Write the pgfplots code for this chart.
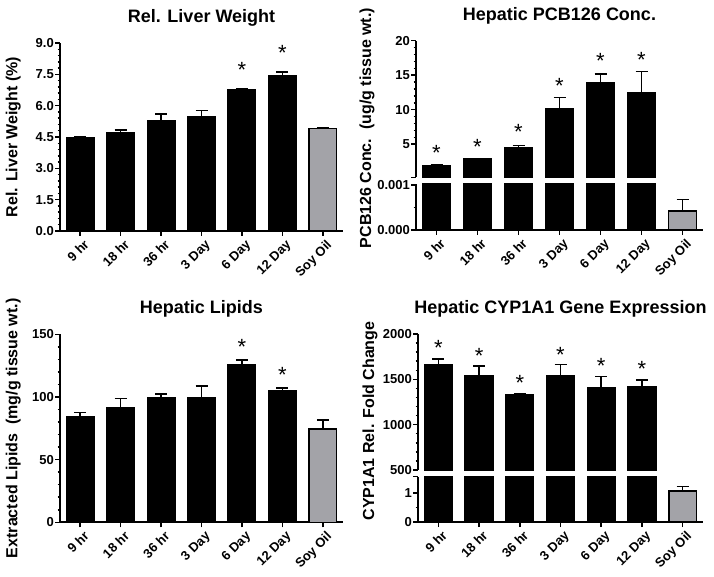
\documentclass[border=0pt]{standalone}
\usepackage{fontspec}
\setmainfont{Liberation Sans}
\usepackage{pgfplots}
\pgfplotsset{compat=1.18}
\usepackage{pgfplotstable}
\definecolor{soygray}{RGB}{163,163,168}

% ---- data: x position, mean, upper error ----
\pgfplotstableread{
x y err
0 4.45 0.06
1 4.70 0.13
2 5.30 0.30
3 5.45 0.32
4 6.78 0.02
5 7.42 0.18
}\liverT
\pgfplotstableread{
x y err
6 4.90 0.03
}\liverS
\pgfplotstableread{
x y
4 7.95
5 8.76
}\liverStar

\pgfplotstableread{
x y err
0 1.81 0.14
1 2.82 0.05
2 4.52 0.28
3 10.18 1.59
4 13.85 1.35
5 12.50 3.00
}\pcbT
\pgfplotstableread{
x y err
6 0.00042 0.00026
}\pcbS
\pgfplotstableread{
x y
0 4.38
1 5.34
2 7.42
3 14.15
4 17.78
5 17.92
}\pcbStar

\pgfplotstableread{
x y err
0 84.6 2.9
1 91.5 7.2
2 99.5 2.9
3 99.5 9.3
4 125.8 3.7
5 105.0 2.2
}\lipT
\pgfplotstableread{
x y err
6 74.5 7.1
}\lipS
\pgfplotstableread{
x y
4 143.6
5 121.5
}\lipStar

\pgfplotstableread{
x y err
0 1659 63
1 1545 103
2 1333 7
3 1538 125
4 1410 124
5 1417 73
}\cypT
\pgfplotstableread{
x y err
6 1.06 0.16
}\cypS
\pgfplotstableread{
x y
0 1898
1 1817
2 1512
3 1824
4 1707
5 1670
}\cypStar

\pgfplotsset{
  prism/.style={
    scale only axis,
    axis x line*=bottom, axis y line*=left,
    axis line style={line width=1.8pt},
    every tick/.style={black, line width=1.5pt},
    tick align=outside,
    major tick length=5pt, minor tick length=2.5pt,
    minor y tick num=4,
    xmin=-0.5, xmax=6.5,
    xtick={0,...,6},
    xticklabels={9 hr,18 hr,36 hr,3 Day,6 Day,12 Day,Soy Oil},
    x tick label style={rotate=45, anchor=north east, inner sep=1pt, yshift=-3pt, xshift=1pt,
      font=\fontsize{13}{13}\selectfont\bfseries},
    y tick label style={inner sep=1pt, font=\fontsize{13}{14}\selectfont\bfseries},
    /pgf/number format/assume math mode=true,
    scaled y ticks=false,
    title style={font=\fontsize{18}{20}\selectfont\bfseries, at={(0.5,1)}, anchor=center, yshift=19pt},
    ylabel style={font=\fontsize{16}{18}\selectfont\bfseries, anchor=center},
  },
  blackbar/.style={ybar, bar shift=0pt, bar width=0.68, fill=black, draw=black, line width=1.5pt},
  soybar/.style={ybar, bar shift=0pt, bar width=0.68, fill=soygray, draw=black, line width=1.5pt},
  errs/.style={error bars/.cd, y dir=plus, y explicit,
    error bar style={line width=1.5pt, black},
    error mark options={rotate=90, mark size=6pt, line width=1.5pt, black}},
  stars/.style={draw=none, nodes near coords={*},
    every node near coord/.style={anchor=base, yshift=-12.5pt, inner sep=0pt,
      font=\fontsize{22}{22}\selectfont}},
  topseg/.style={axis x line=none, xtick=\empty},
}

\begin{document}
\begin{tikzpicture}
\useasboundingbox (0pt,0pt) rectangle (714pt,576pt);

% Rel. liver weight
\begin{axis}[prism, at={(60pt,345pt)}, anchor=south west, width=283pt, height=188pt,
    ymin=0, ymax=9, ytick={0,1.5,...,9},
    yticklabel style={/pgf/number format/.cd, fixed, fixed zerofill, precision=1},
    title={Rel. Liver Weight},
    ylabel={Rel. Liver Weight (\%)},
    ylabel style={at={(axis description cs:-0.165,0.5)}}]
  \addplot[blackbar, errs] table[x=x, y=y, y error=err] {\liverT};
  \addplot[soybar, errs] table[x=x, y=y, y error=err] {\liverS};
  \addplot[stars] table[x=x, y=y] {\liverStar};
\end{axis}

% Hepatic PCB126, upper segment
\begin{axis}[prism, topseg, at={(416pt,398.7pt)}, anchor=south west, width=287pt, height=136.6pt,
    ymin=0.2, ymax=20, ytick={5,10,15,20},
    extra y ticks={0.2}, extra y tick labels={},
    title={Hepatic PCB126 Conc.},
    ylabel={PCB126 Conc.\ \ (ug/g tissue wt.)},
    ylabel style={at={(axis description cs:-0.171,0.361)}}]
  \addplot[blackbar, errs] table[x=x, y=y, y error=err] {\pcbT};
  \addplot[stars] table[x=x, y=y] {\pcbStar};
\end{axis}
% Hepatic PCB126, lower segment (treated bars run off the top)
\begin{axis}[prism, at={(416pt,346pt)}, anchor=south west, width=287pt, height=46pt,
    ymin=0, ymax=0.00102, ytick={0,0.001}, yticklabels={0.000,0.001},
    minor y tick num=1]
  \addplot[blackbar, restrict y to domain*={0:0.0011}] table[x=x, y=y] {\pcbT};
  \addplot[soybar, errs] table[x=x, y=y, y error=err] {\pcbS};
\end{axis}

% Hepatic lipids
\begin{axis}[prism, at={(60pt,53.7pt)}, anchor=south west, width=283pt, height=188pt,
    ymin=0, ymax=150, ytick={0,50,100,150},
    title={Hepatic Lipids},
    ylabel={Extracted Lipids\ \ (mg/g tissue wt.)},
    ylabel style={at={(axis description cs:-0.165,0.5)}}]
  \addplot[blackbar, errs] table[x=x, y=y, y error=err] {\lipT};
  \addplot[soybar, errs] table[x=x, y=y, y error=err] {\lipS};
  \addplot[stars] table[x=x, y=y] {\lipStar};
\end{axis}

% Hepatic CYP1A1, upper segment
\begin{axis}[prism, topseg, at={(418pt,106pt)}, anchor=south west, width=285pt, height=136pt,
    ymin=500, ymax=2000, ytick={500,1000,1500,2000},
    yticklabels={500,1000,1500,2000},
    title={Hepatic CYP1A1 Gene Expression},
    ylabel={CYP1A1 Rel. Fold Change},
    ylabel style={at={(axis description cs:-0.168,0.36)}}]
  \addplot[blackbar, errs] table[x=x, y=y, y error=err] {\cypT};
  \addplot[stars] table[x=x, y=y] {\cypStar};
\end{axis}
% Hepatic CYP1A1, lower segment
\begin{axis}[prism, at={(418pt,54pt)}, anchor=south west, width=285pt, height=45.3pt,
    ymin=0, ymax=1.55, ytick={0,1}, minor y tick num=1,
    extra y ticks={1.55}, extra y tick labels={}]
  \addplot[blackbar, restrict y to domain*={0:1.7}] table[x=x, y=y] {\cypT};
  \addplot[soybar, errs] table[x=x, y=y, y error=err] {\cypS};
\end{axis}
\end{tikzpicture}
\end{document}
